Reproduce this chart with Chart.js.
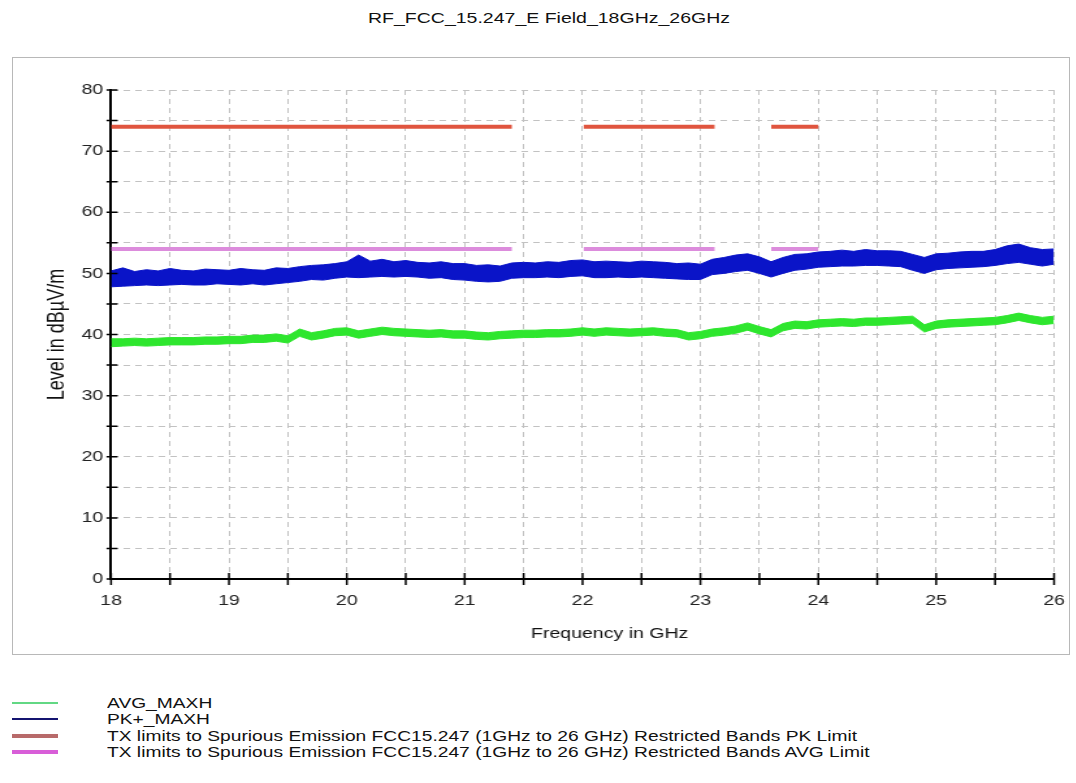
<!DOCTYPE html>
<html>
<head>
<meta charset="utf-8">
<script src="https://cdn.jsdelivr.net/npm/chart.js@4/dist/chart.umd.min.js"></script>
<style>
  body { margin: 0; background: #fff; font-family: "Liberation Sans", Arial, sans-serif; }
  #title { position: absolute; left: 549px; top: 9px; font-size: 15px; color: #111; white-space: nowrap;
           transform: translateX(-50%) scaleX(1.3); }
  #box { position: absolute; left: 12px; top: 57px; width: 1058px; height: 598px; box-sizing: border-box;
         border: 1px solid #b8b8b8; }
  #c { display: block; }
  .lg { position: absolute; left: 0; height: 17px; width: 1000px; }
  .lg .sw { position: absolute; left: 12px; width: 46px; }
  .lg .tx { position: absolute; left: 107px; top: 0; font-size: 15px; line-height: 17px; color: #111;
            white-space: nowrap; transform: scaleX(1.28); transform-origin: left center; }
</style>
</head>
<body>
<div id="title">RF_FCC_15.247_E Field_18GHz_26GHz</div>
<div id="box"><canvas id="c" width="812" height="596" style="width:1056px;height:596px"></canvas></div>
<div id="legend"></div>
<script>
// frequency grid in GHz
var freq = [18.0,18.1,18.2,18.3,18.4,18.5,18.6,18.7,18.8,18.9,
            19.0,19.1,19.2,19.3,19.4,19.5,19.6,19.7,19.8,19.9,
            20.0,20.1,20.2,20.3,20.4,20.5,20.6,20.7,20.8,20.9,
            21.0,21.1,21.2,21.3,21.4,21.5,21.6,21.7,21.8,21.9,
            22.0,22.1,22.2,22.3,22.4,22.5,22.6,22.7,22.8,22.9,
            23.0,23.1,23.2,23.3,23.4,23.5,23.6,23.7,23.8,23.9,
            24.0,24.1,24.2,24.3,24.4,24.5,24.6,24.7,24.8,24.9,
            25.0,25.1,25.2,25.3,25.4,25.5,25.6,25.7,25.8,25.9,26.0];

// PK+_MAXH trace, upper and lower edge of the noise band (dBuV/m)
var pkHigh = [50.4,50.9,50.3,50.6,50.4,50.8,50.5,50.4,50.7,50.6,
              50.5,50.8,50.6,50.5,50.9,50.8,51.1,51.3,51.4,51.6,
              51.9,53.0,52.0,52.3,51.9,52.1,51.8,51.7,51.9,51.6,
              51.6,51.3,51.4,51.2,51.7,51.8,51.7,51.9,51.8,52.1,
              52.2,51.9,52.0,51.9,51.8,52.0,51.9,51.8,51.6,51.7,
              51.5,52.3,52.6,53.0,53.2,52.7,51.9,52.6,53.1,53.2,
              53.5,53.6,53.8,53.6,53.9,53.7,53.7,53.6,53.1,52.6,
              53.2,53.3,53.5,53.6,53.6,53.9,54.5,54.8,54.2,53.9,54.0];
var pkLow =  [47.8,47.9,48.0,48.1,48.0,48.1,48.2,48.1,48.1,48.3,
              48.2,48.1,48.3,48.1,48.3,48.5,48.7,49.0,48.9,49.2,
              49.4,49.3,49.4,49.5,49.4,49.5,49.4,49.2,49.3,49.0,
              48.9,48.7,48.6,48.7,49.2,49.3,49.3,49.4,49.3,49.5,
              49.6,49.3,49.3,49.4,49.3,49.4,49.3,49.2,49.1,49.0,
              49.0,49.8,50.0,50.3,50.5,50.0,49.4,50.0,50.5,50.7,
              51.0,51.1,51.2,51.2,51.3,51.3,51.2,51.1,50.5,50.0,
              50.6,50.8,50.9,51.0,51.1,51.3,51.6,51.8,51.5,51.2,51.5];

// AVG_MAXH trace, upper and lower edge
var avgHigh = [39.3,39.3,39.4,39.3,39.4,39.5,39.5,39.5,39.6,39.6,
               39.7,39.7,39.9,39.9,40.1,39.8,40.9,40.3,40.6,41.0,
               41.1,40.6,40.9,41.2,41.0,40.9,40.8,40.7,40.8,40.6,
               40.6,40.4,40.3,40.5,40.6,40.7,40.7,40.8,40.8,40.9,
               41.1,40.9,41.1,41.0,40.9,41.0,41.1,40.9,40.8,40.3,
               40.5,40.9,41.1,41.4,41.9,41.3,40.8,41.8,42.2,42.1,
               42.4,42.5,42.6,42.5,42.7,42.7,42.8,42.9,43.0,41.6,
               42.2,42.4,42.5,42.6,42.7,42.8,43.1,43.5,43.1,42.8,43.0];
var avgLow =  [38.0,38.1,38.2,38.1,38.2,38.3,38.3,38.3,38.4,38.4,
               38.5,38.5,38.7,38.7,38.9,38.6,39.7,39.1,39.4,39.8,
               39.9,39.4,39.7,40.0,39.8,39.7,39.6,39.5,39.6,39.4,
               39.4,39.2,39.1,39.3,39.4,39.5,39.5,39.6,39.6,39.7,
               39.9,39.7,39.9,39.8,39.7,39.8,39.9,39.7,39.6,39.1,
               39.3,39.7,39.9,40.2,40.7,40.1,39.6,40.6,41.0,40.9,
               41.2,41.3,41.4,41.3,41.5,41.5,41.6,41.7,41.8,40.4,
               41.0,41.2,41.3,41.4,41.5,41.6,41.9,42.3,41.9,41.6,41.8];

// restricted bands (GHz) and limits
var bandStart = [18.0, 22.01, 23.6];
var bandStop  = [21.4, 23.12, 24.0];
var pkLimit = 74;
var avgLimit = 54;

var legendLabels = ['AVG_MAXH', 'PK+_MAXH',
  'TX limits to Spurious Emission FCC15.247 (1GHz to 26 GHz) Restricted Bands PK Limit',
  'TX limits to Spurious Emission FCC15.247 (1GHz to 26 GHz) Restricted Bands AVG Limit'];
var legendColors = ['#62d884', '#141470', '#b86a6a', '#d85ed8'];
var legendWidths = [2, 2, 4, 4];

function trace(vals){
    var pts = [];
    for (var i = 0; i < freq.length; i++) {
        pts.push({x: freq[i], y: vals[i]});
    }
    return pts;
}

function limitLine(level){
    var pts = [];
    for (var i = 0; i < bandStart.length; i++) {
        pts.push({x: bandStart[i], y: level});
        pts.push({x: bandStop[i], y: level});
        pts.push({x: bandStop[i], y: null});
    }
    return pts;
}

var green = '#2ee62e';
var blue = '#0a14c8';

// ticks that cross the axis lines
var crossTicks = {
  id: 'crossTicks',
  afterDraw: function(chart){
    var c = chart.ctx, xs = chart.scales.x, ys = chart.scales.y;
    c.save();
    c.strokeStyle = '#000';
    c.lineWidth = 1.5;
    c.beginPath();
    ys.ticks.forEach(function(t){
      var py = ys.getPixelForValue(t.value);
      c.moveTo(xs.left - 3.5, py);
      c.lineTo(xs.left + 5, py);
    });
    xs.ticks.forEach(function(t){
      var px = xs.getPixelForValue(t.value);
      c.moveTo(px, ys.bottom - 6);
      c.lineTo(px, ys.bottom + 6);
    });
    c.stroke();
    c.restore();
  }
};

var tickFont = {family: '"Liberation Sans", Arial, sans-serif', size: 15};

var ctx = document.getElementById('c');
var myChart = new Chart(ctx, {
  type: 'line',
  data: {
    datasets: [
      { data: trace(pkHigh), borderColor: blue, backgroundColor: blue, borderWidth: 1, fill: '+1' },
      { data: trace(pkLow), borderColor: blue, borderWidth: 1, fill: false },
      { data: trace(avgHigh), borderColor: green, backgroundColor: green, borderWidth: 1, fill: '+1' },
      { data: trace(avgLow), borderColor: green, borderWidth: 1, fill: false },
      { data: limitLine(pkLimit), borderColor: '#e0553f', borderWidth: 4, fill: false, spanGaps: false },
      { data: limitLine(avgLimit), borderColor: '#dc8cdc', borderWidth: 4, fill: false, spanGaps: false }
    ]
  },
  options: {
    responsive: false,
    animation: false,
    elements: { point: { radius: 0 }, line: { tension: 0 } },
    layout: { padding: { left: 0, right: 0, top: 32, bottom: 0 } },
    plugins: { legend: { display: false }, tooltip: { enabled: false } },
    scales: {
      x: {
        type: 'linear', min: 18, max: 26,
        afterFit: function(s){ s.height = 75; s.paddingLeft = 0; s.paddingRight = 11.5; },
        ticks: { stepSize: 0.5, padding: 13, color: '#222', font: tickFont, maxRotation: 0, autoSkip: false,
                 callback: function(v){ return Number.isInteger(v) ? v : ''; } },
        grid: { color: '#c2c2c2', lineWidth: 1, drawTicks: false },
        border: { color: '#000', width: 2, dash: [5, 4] },
        title: { display: true, text: '          Frequency in GHz', color: '#111', font: tickFont, padding: { top: 0, bottom: 11 } }
      },
      y: {
        min: 0, max: 80,
        afterFit: function(s){ s.width = 75.4; },
        ticks: { stepSize: 5, padding: 6, color: '#222', font: tickFont, autoSkip: false,
                 callback: function(v){ return v % 10 === 0 ? v : ''; } },
        grid: { color: '#c2c2c2', lineWidth: 1, drawTicks: false },
        border: { color: '#000', width: 2, dash: [5, 4] },
        title: { display: true, text: 'Level in dB\u00b5V/m', color: '#111',
                 font: {family: tickFont.family, size: 18}, padding: { top: 23, bottom: 0 } }
      }
    }
  },
  plugins: [crossTicks]
});

// legend below the box
var rowsY = [694, 710, 727, 743];
var legend = document.getElementById('legend');
legendLabels.forEach(function(label, i){
    var row = document.createElement('div');
    row.className = 'lg';
    row.style.top = rowsY[i] + 'px';
    var sw = document.createElement('div');
    sw.className = 'sw';
    sw.style.background = legendColors[i];
    sw.style.height = legendWidths[i] + 'px';
    sw.style.top = (8.5 - legendWidths[i] / 2) + 'px';
    var tx = document.createElement('div');
    tx.className = 'tx';
    tx.textContent = label;
    row.appendChild(sw);
    row.appendChild(tx);
    legend.appendChild(row);
});
</script>
</body>
</html>
